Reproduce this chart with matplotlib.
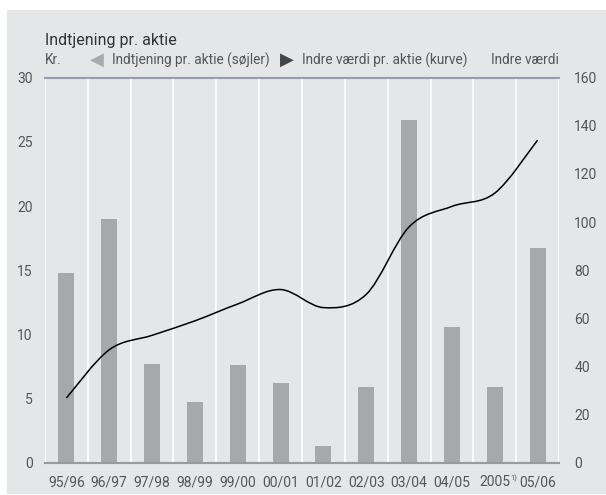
import numpy as np
import matplotlib.pyplot as plt
from matplotlib.path import Path
from matplotlib.patches import PathPatch, Rectangle

plt.rcParams['font.family'] = ['Roboto', 'DejaVu Sans']

# data
years = ['95/96', '96/97', '97/98', '98/99', '99/00', '00/01', '01/02',
         '02/03', '03/04', '04/05', '2005', '05/06']
eps = [14.8, 19.0, 7.7, 4.75, 7.6, 6.25, 1.3, 5.9, 26.7, 10.6, 5.9, 16.7]
indre_vaerdi = [27, 47, 53, 59, 66, 72, 64.5, 70, 98, 106.5, 112, 134]

bg = '#e5e6e8'
txt = '#555555'

fig = plt.figure(figsize=(6.06, 4.95), dpi=100)
fig.patch.set_facecolor('white')
fig.patches.append(Rectangle((7 / 606, 2 / 495), 1, (493 - 10) / 495,
                             transform=fig.transFigure, color=bg, zorder=-10))

ax = fig.add_axes([45 / 606, (495 - 463) / 495, (559 - 45) / 606, (463 - 77.5) / 495])
ax.set_facecolor(bg)
x = np.arange(len(years))
ax.bar(x, eps, width=0.37, color='#a7a8ab', zorder=2)
ax.set_xlim(-0.5, len(years) - 0.5)
ax.set_ylim(0, 30)
ax.set_yticks(range(0, 31, 5))
ax.set_xticks(x)
ax.set_xticklabels(years)
for b in np.arange(-0.5, len(years), 1.0):
    ax.axvline(b, color='white', lw=1.2, zorder=1)
for s in ['left', 'right', 'top', 'bottom']:
    ax.spines[s].set_visible(False)
ax.axhline(30, color='#959cb3', lw=1.5, zorder=3, clip_on=False)
ax.axhline(0, color='#9a9a9c', lw=1.5, zorder=3, clip_on=False)
ax.tick_params(length=0, labelsize=10, colors=txt, pad=9)
ax.tick_params(axis='y', pad=9)
ax.get_xticklabels()[10].set_x(9.93)
ax.get_xticklabels()[10].set_ha('center')

ax2 = ax.twinx()
ax2.set_ylim(0, 160)
ax2.set_yticks(range(0, 161, 20))
ax2.tick_params(length=0, labelsize=10, colors=txt, pad=11)
for s in ['left', 'right', 'top', 'bottom']:
    ax2.spines[s].set_visible(False)

# smooth curve through the points (Catmull-Rom as bezier path)
pts = np.column_stack([x, indre_vaerdi]).astype(float)
ext = np.vstack([pts[0], pts, pts[-1]])
verts = [tuple(pts[0])]
codes = [Path.MOVETO]
for i in range(1, len(ext) - 2):
    p0, p1, p2, p3 = ext[i - 1], ext[i], ext[i + 1], ext[i + 2]
    c1 = p1 + (p2 - p0) / 6
    c2 = p2 - (p3 - p1) / 6
    verts += [tuple(c1), tuple(c2), tuple(p2)]
    codes += [Path.CURVE4] * 3
ax2.add_patch(PathPatch(Path(verts, codes), fill=False, edgecolor='black',
                        lw=1.1, zorder=5))

# superscript footnote on 2005
ax.text(10.45, -0.03, '1)', transform=ax.get_xaxis_transform(), fontsize=5.5,
        color=txt, ha='center', va='top')

# header and legend
fig.text(45 / 606, 1 - 40 / 495, 'Indtjening pr. aktie', fontsize=11.5,
         color='#333333', va='center', ha='left')
ly = 1 - 60 / 495
fig.text(45 / 606, ly, 'Kr.', fontsize=9.8, color=txt, va='center', ha='left')
fig.text(97 / 606, ly, '\u25C0', fontsize=13, color='#a9aaac', va='center',
         ha='center', family=['DejaVu Sans'])
fig.text(112 / 606, ly, 'Indtjening pr. aktie (søjler)', fontsize=9.8,
         color=txt, va='center', ha='left')
fig.text(287 / 606, ly, '\u25B6', fontsize=13, color='#444444', va='center',
         ha='center', family=['DejaVu Sans'])
fig.text(302 / 606, ly, 'Indre værdi pr. aktie (kurve)', fontsize=9.8,
         color=txt, va='center', ha='left')
fig.text(559 / 606, ly, 'Indre værdi', fontsize=9.8, color=txt,
         va='center', ha='right')

fig.savefig('out.png', dpi=100, facecolor=fig.get_facecolor())
